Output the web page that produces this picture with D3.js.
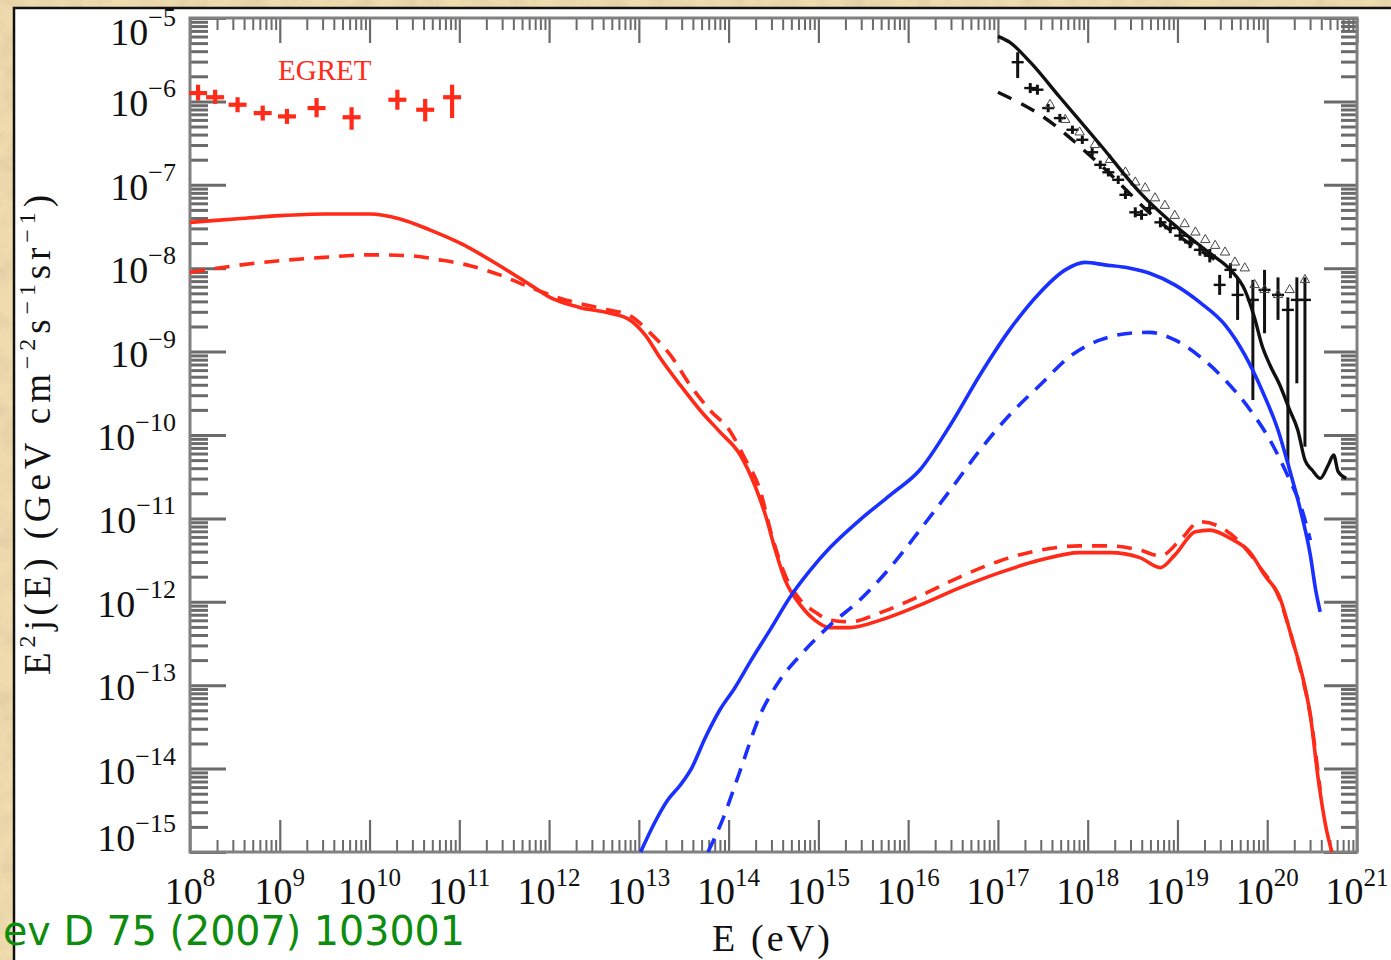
<!DOCTYPE html>
<html>
<head>
<meta charset="utf-8">
<script src="https://cdn.jsdelivr.net/npm/d3@7"></script>
<style>
  html, body { margin: 0; padding: 0; background: #efdcae; overflow: hidden; }
  svg { display: block; }
</style>
</head>
<body>
<svg id="chart" width="1391" height="960"></svg>
<script>
// ---- data: [log10 E(eV), log10 E^2 j(E) (GeV cm^-2 s^-1 sr^-1)] ----
const redSolid = [
  [8.00,-7.45],[8.50,-7.41],[9.00,-7.37],[9.50,-7.35],[10.00,-7.35],[10.34,-7.41],[10.67,-7.54],
  [11.01,-7.70],[11.45,-7.97],[11.79,-8.20],[12.01,-8.35],[12.34,-8.47],[12.68,-8.54],[12.90,-8.62],
  [13.07,-8.80],[13.24,-9.08],[13.46,-9.40],[13.68,-9.70],[13.90,-9.96],[14.13,-10.24],[14.29,-10.60],
  [14.41,-10.96],[14.52,-11.38],[14.63,-11.74],[14.80,-12.04],[14.96,-12.22],[15.13,-12.31],
  [15.35,-12.31],[15.69,-12.22],[16.13,-12.04],[16.58,-11.83],[17.02,-11.65],[17.47,-11.50],
  [17.91,-11.41],[18.25,-11.41],[18.58,-11.47],[18.81,-11.59],[18.97,-11.44],[19.20,-11.16],
  [19.36,-11.14],[19.59,-11.24],[19.81,-11.41],[19.97,-11.68],[20.14,-11.95],[20.28,-12.46],
  [20.39,-12.88],[20.48,-13.36],[20.57,-14.14],[20.65,-14.68],[20.72,-15.00]
];
const redDashed = [
  [8.00,-8.05],[8.50,-7.97],[9.00,-7.91],[9.50,-7.87],[10.00,-7.84],[10.45,-7.85],[10.78,-7.90],
  [11.12,-7.97],[11.45,-8.08],[11.79,-8.23],[12.12,-8.36],[12.57,-8.48],[12.90,-8.57],[13.12,-8.77],
  [13.35,-9.04],[13.57,-9.40],[13.79,-9.70],[14.02,-9.96],[14.18,-10.28],[14.35,-10.66],
  [14.48,-11.20],[14.63,-11.68],[14.80,-11.98],[14.96,-12.12],[15.13,-12.22],[15.35,-12.24],
  [15.69,-12.13],[16.13,-11.93],[16.58,-11.70],[17.02,-11.51],[17.47,-11.38],[17.91,-11.33],
  [18.25,-11.33],[18.58,-11.38],[18.81,-11.45],[19.03,-11.26],[19.25,-11.04],[19.47,-11.10],
  [19.70,-11.29],[19.92,-11.59],[20.12,-11.92],[20.25,-12.34],[20.37,-12.82],[20.48,-13.36],
  [20.59,-14.26]
];
const blueSolid = [
  [13.02,-15.00],[13.18,-14.64],[13.32,-14.38],[13.46,-14.20],[13.59,-13.99],[13.74,-13.63],
  [13.90,-13.30],[14.07,-13.03],[14.24,-12.72],[14.46,-12.34],[14.68,-11.95],[14.91,-11.62],
  [15.13,-11.35],[15.46,-11.02],[15.80,-10.72],[16.13,-10.42],[16.47,-9.88],[16.80,-9.28],
  [17.13,-8.74],[17.47,-8.29],[17.75,-8.02],[17.97,-7.93],[18.19,-7.96],[18.47,-8.00],
  [18.69,-8.06],[18.97,-8.20],[19.25,-8.41],[19.53,-8.68],[19.75,-9.04],[19.94,-9.46],
  [20.12,-9.94],[20.25,-10.42],[20.37,-10.90],[20.48,-11.44],[20.54,-11.86],[20.59,-12.12]
];
const blueDashed = [
  [13.77,-15.00],[13.93,-14.62],[14.13,-14.02],[14.35,-13.36],[14.57,-12.94],[14.80,-12.64],
  [15.13,-12.28],[15.46,-11.98],[15.80,-11.59],[16.13,-11.14],[16.47,-10.66],[16.80,-10.18],
  [17.13,-9.76],[17.47,-9.40],[17.80,-9.06],[18.14,-8.86],[18.47,-8.78],[18.69,-8.77],
  [18.97,-8.86],[19.25,-9.06],[19.53,-9.34],[19.81,-9.70],[20.03,-10.06],[20.25,-10.54],
  [20.37,-10.84],[20.48,-11.26]
];
const blackSolid = [
  [17.00,-5.22],[17.13,-5.29],[17.36,-5.53],[17.69,-5.95],[18.14,-6.52],[18.58,-7.09],
  [19.03,-7.54],[19.36,-7.82],[19.59,-8.02],[19.75,-8.26],[19.86,-8.60],[19.94,-8.92],
  [20.03,-9.16],[20.14,-9.40],[20.25,-9.70],[20.34,-9.94],[20.42,-10.30],[20.50,-10.42],
  [20.59,-10.52],[20.68,-10.36],[20.74,-10.24],[20.79,-10.44],[20.88,-10.52]
];
const blackDashed = [
  [17.00,-5.89],[17.47,-6.16],[18.14,-6.76],[18.81,-7.45],[19.47,-7.93]
];
// EGRET points: [log E, log flux, log low, log high]
const egret = [
  [8.09,-5.90,-5.99,-5.80],[8.28,-5.95,-6.03,-5.86],[8.53,-6.04,-6.13,-5.95],
  [8.81,-6.14,-6.23,-6.05],[9.08,-6.18,-6.27,-6.09],[9.41,-6.08,-6.19,-5.96],
  [9.80,-6.19,-6.34,-6.07],[10.31,-5.98,-6.10,-5.86],[10.62,-6.10,-6.24,-5.97],
  [10.92,-5.95,-6.20,-5.80]
];
// cosmic-ray spectrum measurements (crosses)
const crData = [
  [17.22,-5.53,-5.72,-5.41],[17.36,-5.84,-5.90,-5.78],[17.44,-5.86,-5.92,-5.80],
  [17.56,-6.08,-6.13,-6.03],[17.69,-6.20,-6.25,-6.15],[17.83,-6.34,-6.39,-6.29],
  [17.94,-6.46,-6.51,-6.41],[18.05,-6.61,-6.66,-6.56],[18.14,-6.76,-6.81,-6.71],
  [18.23,-6.85,-6.90,-6.80],[18.34,-6.94,-6.99,-6.89],[18.42,-7.12,-7.17,-7.07],
  [18.53,-7.33,-7.39,-7.27],[18.60,-7.36,-7.42,-7.30],[18.69,-7.28,-7.34,-7.22],
  [18.81,-7.45,-7.51,-7.39],[18.92,-7.52,-7.58,-7.46],[19.03,-7.61,-7.67,-7.55],
  [19.14,-7.69,-7.76,-7.62],[19.25,-7.78,-7.85,-7.71],[19.36,-7.85,-7.93,-7.77],
  [19.47,-8.20,-8.32,-8.08],[19.59,-8.02,-8.12,-7.94],[19.67,-8.32,-8.62,-8.11],
  [19.84,-8.38,-9.58,-8.14],[19.97,-8.26,-8.78,-8.02],[20.12,-8.32,-8.62,-8.11],
  [20.23,-8.50,-10.34,-8.35],[20.33,-8.38,-9.38,-8.11],[20.42,-8.38,-10.14,-8.11]
];
// cosmic-ray spectrum measurements (open triangles)
const crTriangles = [
  [17.58,-6.04],[17.75,-6.22],[17.91,-6.37],[18.08,-6.52],[18.25,-6.70],[18.42,-6.85],
  [18.53,-6.97],[18.64,-7.04],[18.75,-7.16],[18.86,-7.25],[18.97,-7.37],[19.08,-7.47],
  [19.20,-7.57],[19.31,-7.66],[19.42,-7.73],[19.53,-7.81],[19.64,-7.93],[19.75,-8.00],
  [19.86,-8.20],[19.97,-8.26],[20.12,-8.32],[20.25,-8.26],[20.42,-8.14]
];
const xExponents = d3.range(8, 22);   // 10^8 ... 10^21
const yExponents = d3.range(-15, -4); // 10^-15 ... 10^-5

// ---- layout ----
const svg = d3.select("#chart");
const W = 1391, H = 960;
const plot = {left: 190, right: 1357, top: 18, bottom: 852};

const x = d3.scaleLog().domain([1e8, 1e21]).range([plot.left, plot.right]);
const y = d3.scaleLog().domain([1e-15, 1e-5]).range([plot.bottom, plot.top]);
const px = d => x(Math.pow(10, d[0]));
const py = v => y(Math.pow(10, v));

// paper background
const defs = svg.append("defs");
const f = defs.append("filter").attr("id", "paper").attr("x", 0).attr("y", 0).attr("width", 1).attr("height", 1);
f.append("feTurbulence").attr("type", "fractalNoise").attr("baseFrequency", 0.045).attr("numOctaves", 4).attr("seed", 7);
f.append("feColorMatrix").attr("type", "matrix")
  .attr("values", "0 0 0 0 0.72  0 0 0 0 0.58  0 0 0 0 0.36  1.4 0 0 0 -0.5");
defs.append("clipPath").attr("id", "plotclip").append("rect")
  .attr("x", plot.left).attr("y", plot.top - 2)
  .attr("width", plot.right - plot.left).attr("height", plot.bottom - plot.top + 4);

svg.append("rect").attr("width", W).attr("height", H).attr("fill", "#efdcae");
svg.append("rect").attr("width", W).attr("height", H).attr("filter", "url(#paper)");

// white panel with dark edge
svg.append("rect").attr("x", 14).attr("y", 8).attr("width", W).attr("height", H).attr("fill", "#ffffff");
svg.append("path").attr("d", `M14,${H} L14,8 L${W},8`).attr("fill", "none")
  .attr("stroke", "#111").attr("stroke-width", 2.5);

// ---- axes: major and minor ticks on all four sides ----
const xMajor = xExponents.map(e => Math.pow(10, e));
const xMinor = [];
xExponents.slice(0, -1).forEach(e => { for (let k = 2; k <= 9; k++) xMinor.push(k * Math.pow(10, e)); });
const yMajor = yExponents.map(e => Math.pow(10, e));
const yMinor = [];
yExponents.slice(0, -1).forEach(e => { for (let k = 2; k <= 9; k++) yMinor.push(k * Math.pow(10, e)); });

const tickColor = "#6a6a6a";
function styleAxis(g, w) {
  g.select(".domain").remove();
  g.selectAll(".tick line").attr("stroke", tickColor).attr("stroke-width", w);
  g.selectAll(".tick text").remove();
}
const axes = svg.append("g");
[[d3.axisTop, plot.bottom, xMinor, 12, 2], [d3.axisTop, plot.bottom, xMajor, 32, 2.2],
 [d3.axisBottom, plot.top, xMinor, 12, 2], [d3.axisBottom, plot.top, xMajor, 25, 2.2]]
  .forEach(([ax, ty, vals, len, w]) => {
    axes.append("g").attr("transform", `translate(0,${ty})`)
      .call(ax(x).tickValues(vals).tickSize(len).tickSizeOuter(0).tickFormat(""))
      .call(g => styleAxis(g, w));
  });
[[d3.axisRight, plot.left, yMinor, 18, 3], [d3.axisRight, plot.left, yMajor, 36, 3],
 [d3.axisLeft, plot.right, yMinor, 16, 3], [d3.axisLeft, plot.right, yMajor, 33, 3]]
  .forEach(([ax, tx, vals, len, w]) => {
    axes.append("g").attr("transform", `translate(${tx},0)`)
      .call(ax(y).tickValues(vals).tickSize(len).tickSizeOuter(0).tickFormat(""))
      .call(g => styleAxis(g, w));
  });
axes.append("rect").attr("x", plot.left).attr("y", plot.top)
  .attr("width", plot.right - plot.left).attr("height", plot.bottom - plot.top)
  .attr("fill", "none").attr("stroke", "#808080").attr("stroke-width", 3);

// tick labels
const serif = "'Liberation Serif', 'DejaVu Serif', serif";
const minus = "\u2212";
const yl = svg.append("g").attr("font-family", serif).attr("fill", "#111");
yExponents.forEach(e => {
  const ty = y(Math.pow(10, e));
  const base = Math.min(Math.max(ty + 15, 45), 851);
  const t = yl.append("text").attr("x", 176).attr("y", base).attr("text-anchor", "end").attr("font-size", 38);
  t.append("tspan").text("10");
  t.append("tspan").attr("dy", -19).attr("font-size", 26).text(minus + Math.abs(e));
});
const xl = svg.append("g").attr("font-family", serif).attr("fill", "#111");
xExponents.forEach(e => {
  const t = xl.append("text").attr("x", x(Math.pow(10, e))).attr("y", 904)
    .attr("text-anchor", "middle").attr("font-size", 38);
  t.append("tspan").text("10");
  t.append("tspan").attr("dy", -18).attr("font-size", 25).text(String(e));
});

// axis titles
svg.append("text").attr("x", 771).attr("y", 951).attr("text-anchor", "middle")
  .attr("font-family", serif).attr("font-size", 38).attr("fill", "#111")
  .attr("textLength", 118).attr("lengthAdjust", "spacing").text("E (eV)");
const yt = svg.append("text").attr("transform", "translate(50,435) rotate(-90)")
  .attr("text-anchor", "middle").attr("font-family", serif).attr("font-size", 37).attr("fill", "#111")
  .attr("textLength", 480).attr("lengthAdjust", "spacing");
[["E", 0], ["2", -1], ["j(E)  (GeV cm", 1], [minus + "2", -1], ["s", 1], [minus + "1", -1], ["sr", 1], [minus + "1", -1], [")", 1]]
  .forEach(([s, up], i) => {
    const ts = yt.append("tspan").text(s);
    if (up === -1) ts.attr("dy", -15).attr("font-size", 24);
    else if (i > 0) ts.attr("dy", 15);
  });

// ---- marks ----
const g = svg.append("g").attr("clip-path", "url(#plotclip)");
const line = d3.line().x(px).y(d => py(d[1])).curve(d3.curveMonotoneX);

// measurements
const marks = g.append("g").attr("stroke", "#111").attr("fill", "none");
crData.forEach(d => {
  const cx = px(d), cy = py(d[1]);
  marks.append("line").attr("x1", cx).attr("x2", cx).attr("y1", py(d[2])).attr("y2", py(d[3])).attr("stroke-width", 3);
  marks.append("line").attr("x1", cx - 6).attr("x2", cx + 6).attr("y1", cy).attr("y2", cy).attr("stroke-width", 2.4);
});
const tri = d3.symbol().type(d3.symbolTriangle).size(38);
marks.selectAll("path.tri").data(crTriangles).join("path").attr("class", "tri")
  .attr("transform", d => `translate(${px(d)},${py(d[1])})`).attr("d", tri)
  .attr("stroke", "#444").attr("stroke-width", 1);

// model curves
const curves = [
  [redDashed, "#ff2a18", "15,10", 3.6],
  [redSolid, "#ff2a18", null, 3.6],
  [blueDashed, "#1a30ff", "15,10", 3.6],
  [blueSolid, "#1a30ff", null, 3.6],
  [blackDashed, "#111", "15,11", 3.4],
  [blackSolid, "#111", null, 3.4]
];
curves.forEach(([data, color, dash, w]) => {
  g.append("path").datum(data).attr("d", line).attr("fill", "none")
    .attr("stroke", color).attr("stroke-width", w).attr("stroke-dasharray", dash)
    .attr("stroke-linejoin", "round");
});

// EGRET points
const eg = svg.append("g").attr("stroke", "#ff2a18").attr("stroke-width", 4.2);
egret.forEach(d => {
  const cx = px(d), cy = py(d[1]);
  eg.append("line").attr("x1", cx).attr("x2", cx).attr("y1", py(d[2])).attr("y2", py(d[3]));
  eg.append("line").attr("x1", cx - 9).attr("x2", cx + 9).attr("y1", cy).attr("y2", cy);
});
svg.append("text").attr("x", 278).attr("y", 80).attr("font-family", serif).attr("font-size", 29)
  .attr("fill", "#ff2a18").text("EGRET");

// reference
svg.append("text").attr("x", 3).attr("y", 945).attr("text-anchor", "start")
  .attr("font-family", "'DejaVu Sans', sans-serif").attr("font-size", 40).attr("fill", "#0e8c0e")
  .attr("textLength", 462).attr("lengthAdjust", "spacingAndGlyphs")
  .text("ev D 75 (2007) 103001");
</script>
</body>
</html>
